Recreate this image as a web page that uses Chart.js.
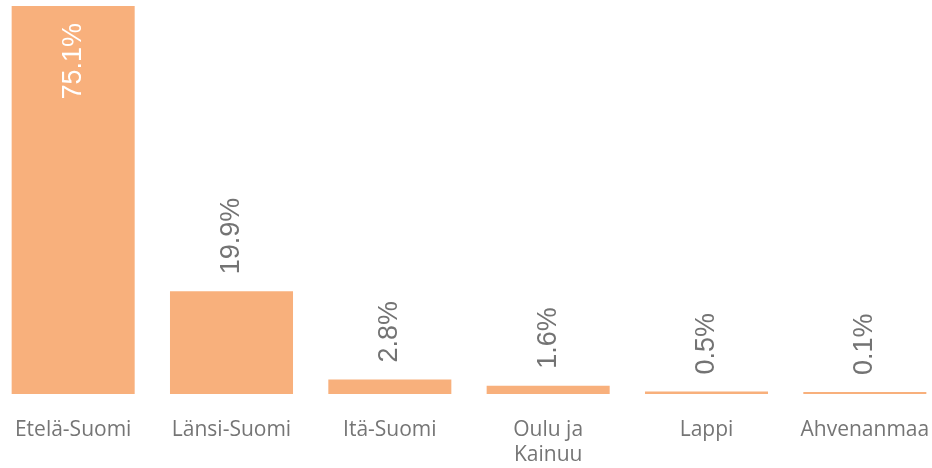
<!DOCTYPE html>
<html>
<head>
<meta charset="utf-8">
<script src="https://cdn.jsdelivr.net/npm/chart.js@4.4.1/dist/chart.umd.min.js"></script>
<style>
  html, body { margin: 0; padding: 0; background: #fff; overflow: hidden; }
  #wrap { position: absolute; left: -6px; top: 0; width: 950px; height: 468px; }
</style>
</head>
<body>
<div id="wrap"><canvas id="barChart"></canvas></div>
<script>
const regions = ['Etelä-Suomi', 'Länsi-Suomi', 'Itä-Suomi', ['Oulu ja', 'Kainuu'], 'Lappi', 'Ahvenanmaa'];
const shares = [75.1, 19.9, 2.8, 1.6, 0.5, 0.1];

// rotated value labels, inside the bar when it is too tall to fit above
const valueLabels = {
  id: 'valueLabels',
  afterDatasetsDraw(chart) {
    const ctx = chart.ctx;
    const meta = chart.getDatasetMeta(0);
    ctx.save();
    ctx.font = '27px "Liberation Sans", Arial, sans-serif';
    ctx.textBaseline = 'middle';
    meta.data.forEach(function(bar, i) {
      const v = shares[i];
      const txt = v.toFixed(1) + '%';
      const inside = v > 50;
      ctx.save();
      ctx.translate(bar.x, inside ? bar.y + 17 : bar.y - 17);
      ctx.rotate(-Math.PI / 2);
      ctx.fillStyle = inside ? '#ffffff' : '#737373';
      ctx.textAlign = inside ? 'right' : 'left';
      ctx.fillText(txt, 0, 0);
      ctx.restore();
    });
    ctx.restore();
  }
};

const barCtx = document.getElementById('barChart').getContext('2d');
const barChart = new Chart(barCtx, {
  type: 'bar',
  data: {
    labels: regions,
    datasets: [{
      data: shares,
      backgroundColor: '#F8B07C',
      borderWidth: 0,
      minBarLength: 2,
      barPercentage: 0.777,
      categoryPercentage: 1
    }]
  },
  options: {
    responsive: true,
    maintainAspectRatio: false,
    animation: false,
    layout: { padding: { top: 6, left: 0, right: 0, bottom: 0 } },
    plugins: {
      legend: { display: false },
      tooltip: { enabled: false }
    },
    scales: {
      x: {
        grid: { display: false, drawTicks: false },
        border: { display: false },
        afterFit(scale) {
          scale.height = 74;
          scale.paddingLeft = 0;
          scale.paddingRight = 0;
        },
        ticks: {
          color: '#757575',
          font: { family: '"Open Sans", sans-serif', size: 21, lineHeight: 1.2 },
          padding: 23,
          maxRotation: 0,
          autoSkip: false
        }
      },
      y: {
        display: false,
        min: 0,
        max: 75.1
      }
    }
  },
  plugins: [valueLabels]
});
</script>
</body>
</html>
